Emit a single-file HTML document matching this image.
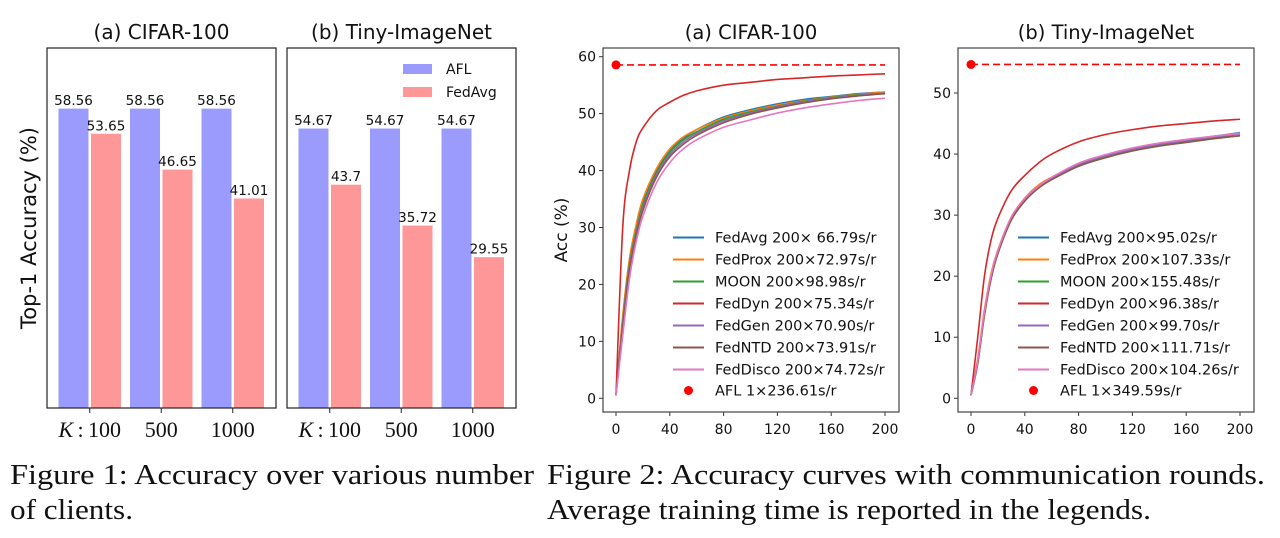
<!DOCTYPE html>
<html><head><meta charset="utf-8">
<style>
html,body{margin:0;padding:0;background:#fff;}
svg{display:block;}
text{font-family:"DejaVu Sans","Liberation Sans",sans-serif;fill:#111;}
.serif{font-family:"Liberation Serif",serif;}
</style></head>
<body>
<svg id="root" width="1280" height="538" viewBox="0 0 1280 538" xmlns="http://www.w3.org/2000/svg">
<g id="bars"></g>
<g id="lines"></g>
<text class="serif" x="10" y="484" font-size="28" textLength="524" lengthAdjust="spacingAndGlyphs">Figure 1: Accuracy over various number</text>
<text class="serif" x="10" y="519" font-size="28" textLength="123" lengthAdjust="spacingAndGlyphs">of clients.</text>
<text class="serif" x="547" y="484" font-size="28" textLength="718" lengthAdjust="spacingAndGlyphs">Figure 2: Accuracy curves with communication rounds.</text>
<text class="serif" x="547" y="519" font-size="28" textLength="604" lengthAdjust="spacingAndGlyphs">Average training time is reported in the legends.</text>
</svg>
<script>
// ---- Bar chart data ----
const barCategories = ["K:100", "500", "1000"];
const cifarAFL = [58.56, 58.56, 58.56];
const cifarFedAvg = [53.65, 46.65, 41.01];
const tinyAFL = [54.67, 54.67, 54.67];
const tinyFedAvg = [43.7, 35.72, 29.55];
const barSeriesNames = ["AFL", "FedAvg"];

// ---- Line chart data ----
const rounds = [0,5,10,15,20,30,40,50,60,80,100,120,140,160,180,200];
const xTicks = [0,40,80,120,160,200];
const cifarYTicks = [0,10,20,30,40,50,60];
const tinyYTicks = [0,10,20,30,40,50];
const methodNames = ["FedAvg","FedProx","MOON","FedDyn","FedGen","FedNTD","FedDisco"];
const cifarLegend = ["FedAvg 200\u00d7 66.79s/r","FedProx 200\u00d772.97s/r","MOON 200\u00d798.98s/r","FedDyn 200\u00d775.34s/r","FedGen 200\u00d770.90s/r","FedNTD 200\u00d773.91s/r","FedDisco 200\u00d774.72s/r","AFL 1\u00d7236.61s/r"];
const tinyLegend = ["FedAvg 200\u00d795.02s/r","FedProx 200\u00d7107.33s/r","MOON 200\u00d7155.48s/r","FedDyn 200\u00d796.38s/r","FedGen 200\u00d799.70s/r","FedNTD 200\u00d7111.71s/r","FedDisco 200\u00d7104.26s/r","AFL 1\u00d7349.59s/r"];
const cifarFedAvgAcc  = [0.5,14,24,30,34.5,40,43.6,45.7,47.2,49.4,50.7,51.7,52.5,53.0,53.5,53.8];
const cifarFedProxAcc = [0.5,14.5,24.5,30.5,35,40.3,43.8,45.9,47.2,49.2,50.5,51.5,52.3,52.9,53.4,53.8];
const cifarMOONAcc    = [0.5,13.5,23.5,29.5,34,39.6,43.2,45.4,46.8,49.0,50.3,51.3,52.2,52.8,53.3,53.6];
const cifarFedDynAcc  = [0.5,30,40,45,47.5,50.5,52,53.2,54,55,55.5,56,56.3,56.6,56.8,57.0];
const cifarFedGenAcc  = [0.5,13,23,29,33.5,39.2,42.8,45,46.5,48.7,50.1,51.2,52.1,52.7,53.2,53.6];
const cifarFedNTDAcc  = [0.5,12.5,22.5,28.5,33,38.8,42.4,44.6,46.2,48.4,49.9,51.0,51.9,52.6,53.1,53.5];
const cifarFedDiscoAcc= [0.5,11,21,27.5,32,37.8,41.4,43.8,45.4,47.6,48.9,50.1,51.0,51.7,52.3,52.7];
const cifarAFLAcc = 58.56;
const tinyFedAvgAcc   = [0.5,6,14,20,24,29.5,32.5,34.5,36,38.3,39.7,40.8,41.6,42.3,42.9,43.5];
const tinyFedProxAcc  = [0.5,6.5,14.5,20.5,24.3,29.7,32.8,34.9,36.2,38.3,39.7,40.8,41.6,42.2,42.8,43.3];
const tinyMOONAcc     = [0.5,5.8,13.7,19.7,23.8,29.3,32.4,34.4,35.9,38.1,39.5,40.6,41.4,42.0,42.6,43.0];
const tinyFedDynAcc   = [0.5,10,20,26,29.5,34,36.5,38.5,40,42,43.2,44,44.6,45,45.4,45.7];
const tinyFedGenAcc   = [0.5,6,14,20,24,29.5,32.6,34.6,36,38.3,39.7,40.8,41.6,42.2,42.8,43.3];
const tinyFedNTDAcc   = [0.5,5.7,13.6,19.6,23.7,29.2,32.3,34.4,35.8,38.0,39.4,40.5,41.3,41.9,42.5,43.0];
const tinyFedDiscoAcc = [0.5,6.2,14.2,20.2,24.2,29.7,32.7,34.7,36.2,38.5,39.9,41.0,41.8,42.4,42.9,43.4];
const tinyAFLAcc = 54.67;

const NS = "http://www.w3.org/2000/svg";
function mk(tag, attrs, parent) {
  const e = document.createElementNS(NS, tag);
  for (const k in attrs) e.setAttribute(k, attrs[k]);
  parent.appendChild(e);
  return e;
}
const colors = ["#1f77b4","#ff7f0e","#2ca02c","#d62728","#9467bd","#8c564b","#e377c2"];

// ---- Bar charts ----
const barsG = document.getElementById("bars");
function barChart(x0, title, aflVals, avgVals, showLegend, showYLabel, key) {
  const g = mk("g", {}, barsG);
  
  
  const top = 48, bottom = 408, w = 229, ymax = 70.3;
  const y = v => bottom - v / ymax * (bottom - top);
  const groupW = 71.5, barW = 31, start = x0 + 11;
  const t = mk("text", {x: x0 + w/2, y: 39, "font-size": 20, "text-anchor": "middle"}, g);
  t.textContent = title;
  
  
  for (let i = 0; i < barCategories.length; i++) {
    const gx = start + i * groupW;
    const b1 = mk("rect", {x: gx, y: y(aflVals[i]), width: barW, height: bottom - y(aflVals[i]), fill: "#9b9bfd", stroke: "#fff", "stroke-width": 1}, g);
    
    
    const b2 = mk("rect", {x: gx + barW + 1.5, y: y(avgVals[i]), width: barW, height: bottom - y(avgVals[i]), fill: "#fe9797", stroke: "#fff", "stroke-width": 1}, g);
    
    
    const l1 = mk("text", {x: gx + barW/2, y: y(aflVals[i]) - 3, "font-size": 13.5, "text-anchor": "middle"}, g);
    l1.textContent = aflVals[i];
    
    
    const l2 = mk("text", {x: gx + barW*1.5 + 1.5, y: y(avgVals[i]) - 3, "font-size": 13.5, "text-anchor": "middle"}, g);
    l2.textContent = avgVals[i];
    
    
    const cx = gx + barW + 0.75;
    mk("line", {x1: cx, x2: cx, y1: bottom, y2: bottom + 5, stroke: "#222", "stroke-width": 1}, g);
    const tl = mk("text", {x: cx, y: 437, "font-size": 22, "text-anchor": "middle", "class": "serif"}, g);
    if (barCategories[i].startsWith("K:")) {
      const it = mk("tspan", {"font-style": "italic"}, tl); it.textContent = "K";
      const rest = mk("tspan", {}, tl); rest.textContent = "\u2009:\u2009" + barCategories[i].slice(2);
    } else tl.textContent = barCategories[i];
    
    
  }
  const frame = mk("rect", {x: x0, y: top, width: w, height: bottom - top, fill: "none", stroke: "#222", "stroke-width": 1.2}, g);
  
  
  if (showLegend) {
    const lg = mk("g", {}, g);
    
    
    const fills = ["#9b9bfd", "#fe9797"];
    for (let j = 0; j < 2; j++) {
      const p = mk("rect", {x: 403, y: 64 + j*23, width: 29, height: 10, fill: fills[j]}, lg);
      
      
      const lt = mk("text", {x: 446, y: 74 + j*23, "font-size": 14}, lg);
      lt.textContent = barSeriesNames[j];
      
      
    }
  }
  if (showYLabel) {
    const yl = mk("text", {x: 0, y: 0, "font-size": 21, "text-anchor": "middle", transform: "translate(36,228) rotate(-90)"}, g);
    yl.textContent = "Top-1 Accuracy (%)";
    
    
  }
}
barChart(47, "(a) CIFAR-100", cifarAFL, cifarFedAvg, false, true, "cifar");
barChart(287, "(b) Tiny-ImageNet", tinyAFL, tinyFedAvg, true, false, "tiny");

// ---- Line charts ----
const linesG = document.getElementById("lines");
function lineChart(cfg) {
  const g = mk("g", {}, linesG);
  
  
  const left = cfg.left, right = cfg.left + 296, top = 48, bottom = 412;
  const xs = v => cfg.x0 + v / 200 * 269;
  const ys = v => 398.3 - v * cfg.ppu;
  const t = mk("text", {x: (left+right)/2, y: 39, "font-size": 19.5, "text-anchor": "middle"}, g);
  t.textContent = cfg.title;
  
  
  for (const v of cfg.yTicks) {
    mk("line", {x1: left - 4, x2: left, y1: ys(v), y2: ys(v), stroke: "#333"}, g);
    const tl = mk("text", {x: left - 7, y: ys(v) + 5, "font-size": 14, "text-anchor": "end"}, g);
    tl.textContent = v;
    
    
  }
  for (const v of xTicks) {
    mk("line", {x1: xs(v), x2: xs(v), y1: bottom, y2: bottom + 4, stroke: "#333"}, g);
    const tl = mk("text", {x: xs(v), y: 434, "font-size": 14, "text-anchor": "middle"}, g);
    tl.textContent = v;
    
    
  }
  if (cfg.yLabel) {
    const yl = mk("text", {x: 0, y: 0, "font-size": 17, "text-anchor": "middle", transform: "translate(567,230) rotate(-90)"}, g);
    yl.textContent = cfg.yLabel;
    
    
  }
  const dl = mk("line", {x1: xs(0), x2: xs(200), y1: ys(cfg.afl), y2: ys(cfg.afl), stroke: "#f00", "stroke-width": 1.6, "stroke-dasharray": "7,4"}, g);
  
  
  const dot = mk("circle", {cx: xs(0), cy: ys(cfg.afl), r: 4.5, fill: "#f00"}, g);
  
  
  cfg.series.forEach((vals, si) => {
    let d = "";
    for (let i = 0; i < rounds.length; i++) {
      const px = xs(rounds[i]), py = ys(vals[i]);
      if (i === 0) { d += "M" + px + "," + py; continue; }
      const p0x = xs(rounds[Math.max(i-2,0)]), p0y = ys(vals[Math.max(i-2,0)]);
      const p1x = xs(rounds[i-1]), p1y = ys(vals[i-1]);
      const p3x = xs(rounds[Math.min(i+1,rounds.length-1)]), p3y = ys(vals[Math.min(i+1,rounds.length-1)]);
      const c1x = p1x + (px - p0x)/6, c1y = p1y + (py - p0y)/6;
      const c2x = px - (p3x - p1x)/6, c2y = py - (p3y - p1y)/6;
      d += " C" + c1x + "," + c1y + " " + c2x + "," + c2y + " " + px + "," + py;
    }
    const p = mk("path", {d: d, fill: "none", stroke: colors[si], "stroke-width": 1.6}, g);
    
    
  });
  const frame = mk("rect", {x: left, y: top, width: right - left, height: bottom - top, fill: "none", stroke: "#444", "stroke-width": 1.2}, g);
  
  
  const lg = mk("g", {}, g);
  
  
  const rowsY = [237.5, 259.5, 281.5, 303.5, 325.5, 347.5, 369.5, 390.5];
  for (let j = 0; j < 8; j++) {
    if (j < 7) {
      const ln = mk("line", {x1: cfg.lx, x2: cfg.lx + 31, y1: rowsY[j], y2: rowsY[j], stroke: colors[j], "stroke-width": 2}, lg);
      
      
    } else {
      const c = mk("circle", {cx: cfg.lx + 15.5, cy: rowsY[j], r: 4.5, fill: "#f00"}, lg);
      
      
    }
    const lt = mk("text", {x: cfg.lx + 42, y: rowsY[j] + 5, "font-size": 14.5}, lg);
    lt.textContent = cfg.legend[j];
    
    
  }
}
lineChart({key: "cifar", title: "(a) CIFAR-100", left: 603, x0: 616, ppu: 341.6/60, yTicks: cifarYTicks, yLabel: "Acc (%)",
  afl: cifarAFLAcc, legend: cifarLegend, lx: 673,
  series: [cifarFedAvgAcc, cifarFedProxAcc, cifarMOONAcc, cifarFedDynAcc, cifarFedGenAcc, cifarFedNTDAcc, cifarFedDiscoAcc]});
lineChart({key: "tiny", title: "(b) Tiny-ImageNet", left: 958, x0: 971, ppu: 305.3/50, yTicks: tinyYTicks, yLabel: "",
  afl: tinyAFLAcc, legend: tinyLegend, lx: 1018,
  series: [tinyFedAvgAcc, tinyFedProxAcc, tinyMOONAcc, tinyFedDynAcc, tinyFedGenAcc, tinyFedNTDAcc, tinyFedDiscoAcc]});
</script>
</body></html>
